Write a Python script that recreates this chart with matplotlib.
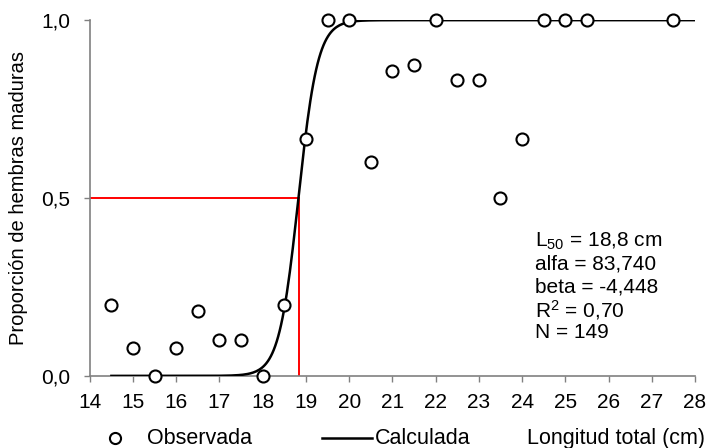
import numpy as np
import matplotlib
matplotlib.use("Agg")
import matplotlib.pyplot as plt
from matplotlib.lines import Line2D

plt.rcParams['font.family'] = ['Liberation Sans', 'DejaVu Sans']
plt.rcParams['mathtext.fontset'] = 'custom'
plt.rcParams['mathtext.rm'] = 'Liberation Sans'
plt.rcParams['mathtext.it'] = 'Liberation Sans:italic'
plt.rcParams['mathtext.bf'] = 'Liberation Sans:bold'

# Observed data
longitud = [14.5, 15, 15.5, 16, 16.5, 17, 17.5, 18, 18.5, 19, 19.5, 20, 20.5, 21,
            21.5, 22, 22.5, 23, 23.5, 24, 24.5, 25, 25.5, 27.5]
proporcion = [0.20, 0.077, 0.0, 0.077, 0.182, 0.10, 0.10, 0.0, 0.20, 0.667, 1.0, 1.0,
              0.60, 0.857, 0.875, 1.0, 0.833, 0.833, 0.50, 0.667, 1.0, 1.0, 1.0, 1.0]

# Fitted logistic parameters (shown in the chart)
alfa = 83.740
beta = -4.448
L50 = 18.83
curve_range = [14.5, 28]

xticks = list(range(14, 29))
yticks = [0.0, 0.5, 1.0]
ytick_labels = ['0,0', '0,5', '1,0']

fig = plt.figure(figsize=(7.07, 4.48), dpi=100)
ax = fig.add_axes([0.127, 0.161, 0.856, 0.794])

xc = np.linspace(curve_range[0], curve_range[1], 400)
yc = 1.0 / (1.0 + np.exp(alfa + beta * xc))

ax.plot([14, L50], [0.5, 0.5], color='#ff0000', lw=1.4, zorder=2)
ax.plot([L50, L50], [0, 0.5], color='#ff0000', lw=1.4, zorder=2)
ax.plot(xc, yc, color='black', lw=1.8, zorder=3)
ax.scatter(longitud, proporcion, s=75, facecolor='white', edgecolor='black',
           linewidth=1.5, zorder=4, clip_on=False)

ax.set_xlim(14, 28)
ax.set_ylim(0, 1)
ax.set_xticks(xticks)
ax.set_xticklabels([str(t) for t in xticks], fontsize=15)
ax.set_yticks(yticks)
ax.set_yticklabels(ytick_labels, fontsize=15)
ax.tick_params(axis='both', direction='out', length=4, color='#808080', width=1)
ax.tick_params(axis='x', pad=8)
ax.tick_params(axis='y', pad=10)
for s in ['top', 'right']:
    ax.spines[s].set_visible(False)
for s in ['left', 'bottom']:
    ax.spines[s].set_color('#808080')
    ax.spines[s].set_linewidth(1.2)
ax.set_ylabel('Proporción de hembras maduras', fontsize=14.5)
ax.yaxis.set_label_coords(-0.102, 0.5)

txt = ['L$_{50}$ = 18,8 cm', 'alfa = 83,740', 'beta = -4,448', 'R$^{2}$ = 0,70', 'N = 149']
ys = [0.379, 0.315, 0.25, 0.185, 0.121]
for t, y in zip(txt, ys):
    ax.text(24.3, y, t, fontsize=15, va='center', ha='left')

# Bottom legend and x-label
yl = 1 - 438 / 448
fig.add_artist(Line2D([115 / 707], [yl], marker='o', markersize=8,
                      markerfacecolor='white', markeredgecolor='black', mew=1.5,
                      transform=fig.transFigure))
fig.text(147 / 707, yl, 'Observada', fontsize=15.5, va='center', ha='left')
fig.add_artist(Line2D([322 / 707, 372 / 707], [yl, yl],
                      color='black', lw=1.8, transform=fig.transFigure))
fig.text(375 / 707, yl, 'Calculada', fontsize=15.5, va='center', ha='left')
fig.text(705 / 707, yl, 'Longitud total (cm)', fontsize=15.5, va='center', ha='right')

fig.savefig('out.png', dpi=100)
